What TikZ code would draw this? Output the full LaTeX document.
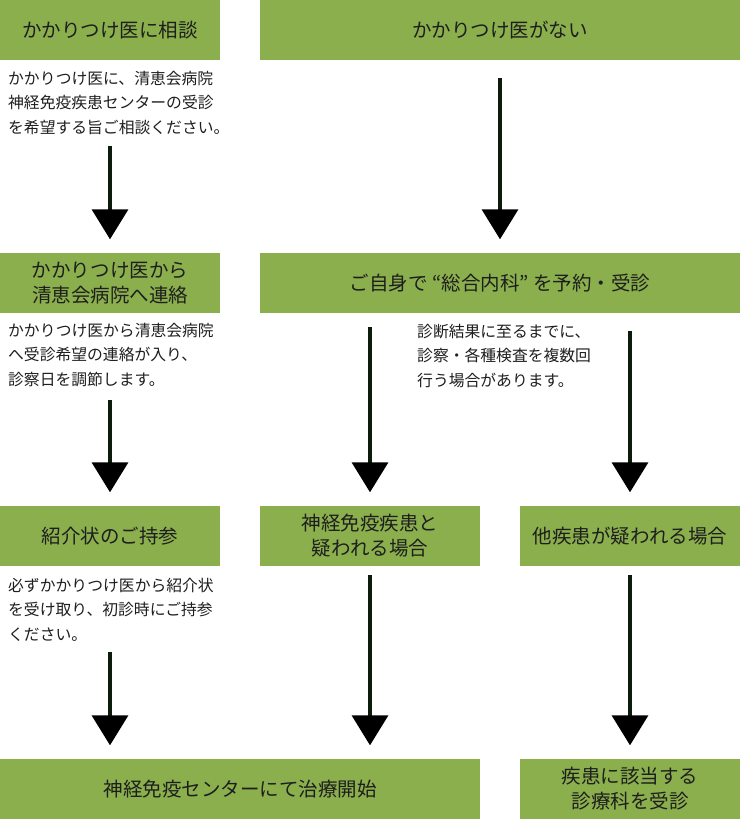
\documentclass[tikz,border=0pt]{standalone}
\usepackage{fontspec}
\setmainfont{Noto Sans CJK JP}
\usetikzlibrary{arrows.meta}
\definecolor{boxgreen}{HTML}{8AAF4C}
\definecolor{txt}{HTML}{1E1E1E}
\definecolor{shaft}{HTML}{0C1C0C}
\tikzset{
  gbox/.style={fill=boxgreen, inner sep=0pt, align=center, text=txt,
    font=\fontsize{19.5}{25}\selectfont},
  note/.style={inner sep=0pt, anchor=north west, align=left, text=txt,
    font=\fontsize{15.8}{24.5}\selectfont},
  arr/.style={draw=shaft, line width=3.6pt,
    -{Triangle[width=36pt,length=30pt,color=black]}, shorten >=13.5pt}
}
\begin{document}
\begin{tikzpicture}[x=1pt,y=-1pt]
\useasboundingbox (0,0) rectangle (740,819);
% boxes
\node[gbox, minimum width=220pt, minimum height=60pt] (b1) at (110,30) {かかりつけ医に相談};
\node[gbox, minimum width=480pt, minimum height=60pt] (b2) at (500,30) {かかりつけ医がない};
\node[gbox, minimum width=220pt, minimum height=60pt] (b3) at (110,283) {かかりつけ医から\\清恵会病院へ連絡};
\node[gbox, minimum width=480pt, minimum height=60pt] (b4) at (500,283) {ご自身で\ “総合内科”\ を予約・受診};
\node[gbox, minimum width=220pt, minimum height=60pt] (b5) at (110,536) {紹介状のご持参};
\node[gbox, minimum width=220pt, minimum height=60pt] (b6) at (370,536) {神経免疫疾患と\\疑われる場合};
\node[gbox, minimum width=220pt, minimum height=60pt] (b7) at (630,536) {他疾患が疑われる場合};
\node[gbox, minimum width=480pt, minimum height=60pt] (b8) at (240,789) {神経免疫センターにて治療開始};
\node[gbox, minimum width=220pt, minimum height=60pt] (b9) at (630,789) {疾患に該当する\\診療科を受診};
% notes
\node[note] (n1) at (8,71) {かかりつけ医に、清恵会病院\\神経免疫疾患センターの受診\\を希望する旨ご相談ください。};
\node[note] (n2) at (8,323) {かかりつけ医から清恵会病院\\へ受診希望の連絡が入り、\\診察日を調節します。};
\node[note] (n3) at (417,324) {診断結果に至るまでに、\\診察・各種検査を複数回\\行う場合があります。};
\node[note] (n4) at (8,578) {必ずかかりつけ医から紹介状\\を受け取り、初診時にご持参\\ください。};
% arrow starts
\coordinate (s1) at (110,146);
\coordinate (s2) at (500,78);
\coordinate (s3) at (110,400);
\coordinate (s4) at (370,327);
\coordinate (s5) at (630,331);
\coordinate (s6) at (110,652);
\coordinate (s7) at (370,575);
\coordinate (s8) at (630,575);
% arrows
\draw[arr] (s1) -- (b3.north);
\draw[arr] (s2) -- (b4.north);
\draw[arr] (s3) -- (b5.north);
\draw[arr] (s4) -- (b6.north);
\draw[arr] (s5) -- (b7.north);
\draw[arr] (s6) -- (b5.south |- b8.north);
\draw[arr] (s7) -- (b6.south |- b8.north);
\draw[arr] (s8) -- (b9.north);
\end{tikzpicture}
\end{document}
